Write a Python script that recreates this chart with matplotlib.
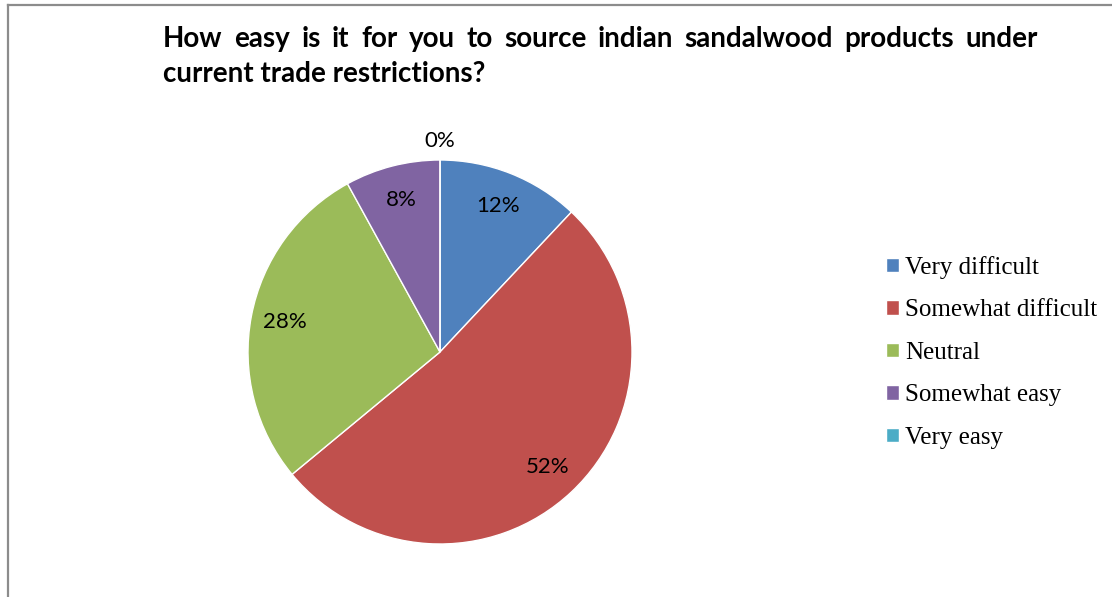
import matplotlib
matplotlib.use('Agg')
import matplotlib.pyplot as plt
from matplotlib.lines import Line2D
import numpy as np

# Chart data
categories = ['Very difficult', 'Somewhat difficult', 'Neutral', 'Somewhat easy', 'Very easy']
shares = [12, 52, 28, 8, 0]
colors = ['#4F81BD', '#C0504D', '#9BBB59', '#8064A2', '#4BACC6']
title_line1 = 'How easy is it for you to source indian sandalwood products under'
title_line2 = 'current trade restrictions?'

W, H = 1112, 597
fig = plt.figure(figsize=(W / 100, H / 100), dpi=100)

# pie axes: center (440, 352) px, radius 192 px
r = 192
ax = fig.add_axes([(440 - r) / W, (H - 352 - r) / H, 2 * r / W, 2 * r / H])
wedges, texts, autotexts = ax.pie(
    shares, colors=colors, startangle=90, counterclock=False,
    autopct=lambda p: '%d%%' % round(p), pctdistance=0.82,
    wedgeprops=dict(edgecolor='white', linewidth=1),
    textprops=dict(family='Lato', fontsize=16, color='black'))
ax.set_xlim(-1, 1)
ax.set_ylim(-1, 1)
ax.set_aspect('equal')

# zero slices get their label outside the pie
for w, t, v in zip(wedges, autotexts, shares):
    if v == 0:
        ang = np.deg2rad((w.theta1 + w.theta2) / 2)
        t.set_position((1.1 * np.cos(ang), 1.1 * np.sin(ang)))

# legend
leg = fig.legend(wedges, categories, loc='upper left', bbox_to_anchor=(886 / W, 1 - 256 / H),
                 frameon=False, prop=dict(family='Liberation Serif', size=18),
                 handlelength=0.52, handleheight=0.52, handletextpad=0.25, labelspacing=0.82,
                 borderpad=0, borderaxespad=0)

# title, first line justified between x=163 and x=1038
tfont = dict(family='Lato', fontweight='bold', fontsize=20)
words = title_line1.split()
objs = [fig.text(0, 1 - 47 / H, wd, ha='left', va='baseline', **tfont) for wd in words]
fig.canvas.draw()
rend = fig.canvas.get_renderer()
widths = [o.get_window_extent(rend).width for o in objs]
gap = (1038 - 163 - sum(widths)) / (len(words) - 1)
x = 163
for o, wdt in zip(objs, widths):
    o.set_x(x / W)
    x += wdt + gap
fig.text(163 / W, 1 - 82 / H, title_line2, ha='left', va='baseline', **tfont)

# frame lines
fig.add_artist(Line2D([7.5 / W, 7.5 / W], [0, 1 - 4.5 / H], color='#8c8c8c', linewidth=1.6))
fig.add_artist(Line2D([7.5 / W, 1], [1 - 4.5 / H, 1 - 4.5 / H], color='#8c8c8c', linewidth=1.6))

fig.savefig('out.png', dpi=100)
